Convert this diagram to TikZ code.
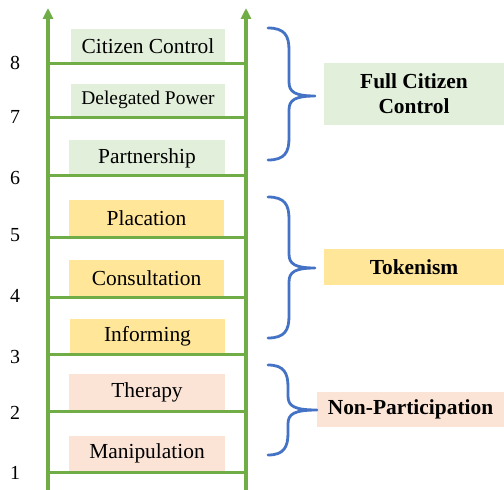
\documentclass[tikz,border=0pt]{standalone}
\usepackage{fontspec}
\setmainfont{Liberation Serif}
\usetikzlibrary{arrows.meta}
\definecolor{railgreen}{HTML}{70AD47}
\definecolor{bracebl}{HTML}{4472C4}
\definecolor{fgreen}{HTML}{E2EFDA}
\definecolor{fyellow}{HTML}{FFE699}
\definecolor{fpink}{HTML}{FBE3D6}
\tikzset{
  rail/.style={draw=railgreen, line width=3.5bp, -{Triangle[width=10bp,length=11bp]}},
  rung/.style={draw=railgreen, line width=3bp},
  stepbox/.style={minimum width=155bp, minimum height=35bp, inner sep=0pt, font=\fontsize{21.5}{25}\selectfont},
  numlbl/.style={font=\fontsize{20}{24}\selectfont, inner sep=0pt},
  grouplbl/.style={inner sep=0pt, font=\fontsize{21.5}{25}\selectfont\bfseries, align=center},
  bracestyle/.style={draw=bracebl, line width=2.8bp, line cap=round}
}
\newcommand\rbrac[6]{% x0, ytop, ymid, ybot, xbulge, xtip
  \draw[bracestyle] (#1,#2) .. controls (#5-4,#2) and (#5,#2+8) .. (#5,#2+22)
    -- (#5,#3-14) .. controls (#5,#3-4) and (#5+6,#3) .. (#6,#3)
    (#6,#3) .. controls (#5+6,#3) and (#5,#3+4) .. (#5,#3+14)
    -- (#5,#4-22) .. controls (#5,#4-8) and (#5-4,#4) .. (#1,#4);}
\begin{document}
\begin{tikzpicture}[x=1bp,y=-1bp]
\useasboundingbox (0,0) rectangle (504,490);
% boxes
\node[stepbox, fill=fgreen, minimum width=154bp, minimum height=34bp] (cc) at (148,46) {Citizen Control};
\node[stepbox, fill=fgreen, minimum width=154bp, minimum height=32bp, font=\fontsize{19.5}{23}\selectfont] (dp) at (148,100) {Delegated Power};
\node[stepbox, fill=fgreen, minimum width=156bp] (pa) at (147,158) {Partnership};
\node[stepbox, fill=fyellow, minimum height=36bp] (pl) at (146.5,218) {Placation};
\node[stepbox, fill=fyellow, minimum height=36bp] (co) at (146.5,278) {Consultation};
\node[stepbox, fill=fyellow] (in) at (147.5,336.5) {Informing};
\node[stepbox, fill=fpink, minimum width=156bp, minimum height=36bp] (th) at (147,392) {Therapy};
\node[stepbox, fill=fpink, minimum width=156bp] (ma) at (147,453.5) {Manipulation};
% rails
\coordinate (lb) at (48,490); \coordinate (lt) at (48,8);
\coordinate (rb) at (246,490); \coordinate (rt) at (246,8);
\draw[rail] (lb) -- (lt);
\draw[rail] (rb) -- (rt);
% rungs and numbers
\foreach \y/\n/\ny in {64/8/63, 118/7/117, 176/6/178, 237/5/235, 297/4/296, 354/3/357, 411/2/413, 472/1/473}{
  \draw[rung] (48,\y) -- (246,\y);
  \node[numlbl] (n\n) at (15,\ny) {\n};
}
% group labels
\node[grouplbl, fill=fgreen, minimum width=180bp, minimum height=62bp] (g1) at (414,94) {Full Citizen\\Control};
\node[grouplbl, fill=fyellow, minimum width=180bp, minimum height=36bp] (g2) at (414,267) {Tokenism};
\node[grouplbl, fill=fpink, minimum width=187bp, minimum height=35bp] (g3) at (410.5,409.5) {Non-Participation};
% braces
\rbrac{268}{28}{96}{160}{289}{315}
\rbrac{268}{197}{268}{338}{289}{315}
\rbrac{268}{365}{410}{455}{288}{317}
\end{tikzpicture}
\end{document}
